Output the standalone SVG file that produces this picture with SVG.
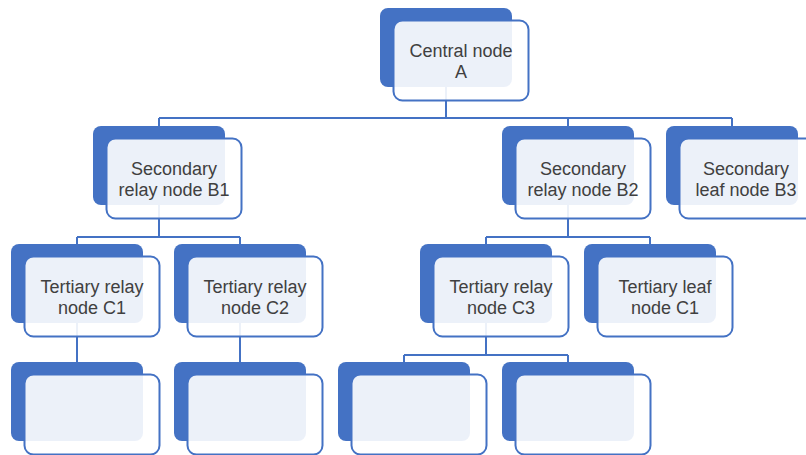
<svg xmlns="http://www.w3.org/2000/svg" width="806" height="455" viewBox="0 0 806 455">
<defs>
<style>
.back{fill:#4472C4;}
.front{fill:#FFFFFF;fill-opacity:0.9;stroke:#4472C4;stroke-width:2;}
.conn{fill:none;stroke:#4472C4;stroke-width:2;}
.lbl{font-family:"Liberation Sans",Arial,sans-serif;font-size:18px;fill:#404040;text-anchor:middle;}
</style>
</defs>
<rect width="806" height="455" fill="#FFFFFF"/>
<g id="connectors">
<path class="conn" d="M446 87V118M159 118H732M159 118V126M568 118V126M732 118V126"/>
<path class="conn" d="M159 205V237M77 237H240M77 237V244M240 237V244"/>
<path class="conn" d="M568 205V237M486 237H650M486 237V244M650 237V244"/>
<path class="conn" d="M77 323V362M240 323V362"/>
<path class="conn" d="M486 323V355M404 355H568M404 355V362M568 355V362"/>
</g>
<g id="node-A">
<rect class="back" x="380" y="8" width="132" height="79" rx="8"/>
<rect class="front" x="393.5" y="20.5" width="135" height="80" rx="9"/>
<text class="lbl" x="461" y="56.5">Central node</text>
<text class="lbl" x="461" y="78">A</text>
</g>
<g id="node-B1">
<rect class="back" x="93" y="126" width="132" height="79" rx="8"/>
<rect class="front" x="106.5" y="138.5" width="135" height="80" rx="9"/>
<text class="lbl" x="174" y="175">Secondary</text>
<text class="lbl" x="174" y="196">relay node B1</text>
</g>
<g id="node-B2">
<rect class="back" x="502" y="126" width="132" height="79" rx="8"/>
<rect class="front" x="515.5" y="138.5" width="135" height="80" rx="9"/>
<text class="lbl" x="583" y="175">Secondary</text>
<text class="lbl" x="583" y="196">relay node B2</text>
</g>
<g id="node-B3">
<rect class="back" x="666" y="126" width="132" height="79" rx="8"/>
<rect class="front" x="679.5" y="138.5" width="135" height="80" rx="9"/>
<text class="lbl" x="746" y="175">Secondary</text>
<text class="lbl" x="746" y="196">leaf node B3</text>
</g>
<g id="node-C1">
<rect class="back" x="11" y="244" width="132" height="79" rx="8"/>
<rect class="front" x="24.5" y="256.5" width="135" height="80" rx="9"/>
<text class="lbl" x="92" y="292.5">Tertiary relay</text>
<text class="lbl" x="92" y="313.5">node C1</text>
</g>
<g id="node-C2">
<rect class="back" x="174" y="244" width="132" height="79" rx="8"/>
<rect class="front" x="187.5" y="256.5" width="135" height="80" rx="9"/>
<text class="lbl" x="255" y="292.5">Tertiary relay</text>
<text class="lbl" x="255" y="313.5">node C2</text>
</g>
<g id="node-C3">
<rect class="back" x="420" y="244" width="132" height="79" rx="8"/>
<rect class="front" x="433.5" y="256.5" width="135" height="80" rx="9"/>
<text class="lbl" x="501" y="292.5">Tertiary relay</text>
<text class="lbl" x="501" y="313.5">node C3</text>
</g>
<g id="node-C1-leaf">
<rect class="back" x="584" y="244" width="132" height="79" rx="8"/>
<rect class="front" x="597.5" y="256.5" width="135" height="80" rx="9"/>
<text class="lbl" x="665" y="292.5">Tertiary leaf</text>
<text class="lbl" x="665" y="313.5">node C1</text>
</g>
<g id="node-D1">
<rect class="back" x="11" y="362" width="132" height="79" rx="8"/>
<rect class="front" x="24.5" y="374.5" width="135" height="80" rx="9"/>
</g>
<g id="node-D2">
<rect class="back" x="174" y="362" width="132" height="79" rx="8"/>
<rect class="front" x="187.5" y="374.5" width="135" height="80" rx="9"/>
</g>
<g id="node-D3">
<rect class="back" x="338" y="362" width="132" height="79" rx="8"/>
<rect class="front" x="351.5" y="374.5" width="135" height="80" rx="9"/>
</g>
<g id="node-D4">
<rect class="back" x="502" y="362" width="132" height="79" rx="8"/>
<rect class="front" x="515.5" y="374.5" width="135" height="80" rx="9"/>
</g>
</svg>
